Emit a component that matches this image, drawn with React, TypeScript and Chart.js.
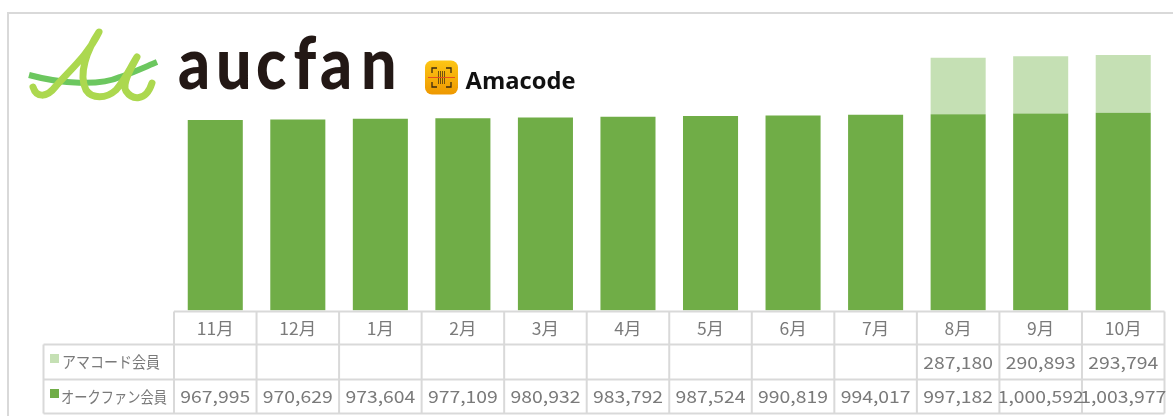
import React, { useEffect, useRef } from "react";
import { Chart, registerables } from "chart.js";

Chart.register(...registerables);

const months = ["11月", "12月", "1月", "2月", "3月", "4月", "5月", "6月", "7月", "8月", "9月", "10月"];
const aucfanMembers = [967995, 970629, 973604, 977109, 980932, 983792, 987524, 990819, 994017, 997182, 1000592, 1003977];
const amacodeMembers = [null, null, null, null, null, null, null, null, null, 287180, 290893, 293794];
const aucfanLabel = "オークファン会員";
const amacodeLabel = "アマコード会員";

const DARK = "#70ad47";
const LIGHT = "#c5e0b4";
const LINE = "#d9d9d9";
const TEXT = "#7a7a7a";
const FONT = '"Noto Sans CJK JP", "Noto Sans", sans-serif';

const fmt = (v: number | null) => (v == null ? "" : v.toLocaleString("en-US"));

const tablePlugin = {
  id: "dataTable",
  afterDraw(chart: any) {
    const { ctx, scales, chartArea } = chart;
    const x = scales.x;
    const left = chartArea.left;
    const right = chartArea.right;
    const rows = [311.5, 344.5, 379.5, 413.5];
    const legendLeft = 43.5;
    const step = (right - left) / months.length;

    ctx.save();
    ctx.strokeStyle = LINE;
    ctx.lineWidth = 2;
    // outer frame
    ctx.beginPath();
    ctx.moveTo(8, 416);
    ctx.lineTo(8, 13);
    ctx.lineTo(1173, 13);
    ctx.stroke();
    // table
    ctx.beginPath();
    ctx.moveTo(left, rows[0]);
    ctx.lineTo(right, rows[0]);
    for (let r = 1; r < rows.length; r++) {
      ctx.moveTo(legendLeft, rows[r]);
      ctx.lineTo(right, rows[r]);
    }
    ctx.moveTo(legendLeft, rows[1]);
    ctx.lineTo(legendLeft, rows[3]);
    for (let i = 0; i <= months.length; i++) {
      const lx = left + i * step;
      ctx.moveTo(lx, rows[0]);
      ctx.lineTo(lx, rows[3]);
    }
    ctx.stroke();

    ctx.fillStyle = TEXT;
    ctx.textAlign = "center";
    ctx.textBaseline = "middle";
    const wide = (text: string, cx: number, cy: number, sx: number) => {
      ctx.save();
      ctx.translate(cx, cy);
      ctx.scale(sx, 1);
      ctx.fillText(text, 0, 0);
      ctx.restore();
    };
    months.forEach((m, i) => {
      const cx = x.getPixelForValue(i);
      ctx.font = `17px ${FONT}`;
      wide(m, cx, 328.5, 1.03);
      wide(fmt(amacodeMembers[i]), cx, 362.5, 1.14);
      wide(fmt(aucfanMembers[i]), cx, 397, 1.14);
    });

    ctx.textAlign = "left";
    ctx.font = `15.5px ${FONT}`;
    ctx.fillText(amacodeLabel, 62, 362, 98);
    ctx.fillText(aucfanLabel, 61, 397, 106);
    ctx.fillStyle = LIGHT;
    ctx.fillRect(50, 354, 9, 9);
    ctx.fillStyle = DARK;
    ctx.fillRect(50, 389, 9, 9);
    ctx.restore();
  },
};

function Logo() {
  return (
    <svg width={1173} height={416} style={{ position: "absolute", left: 0, top: 0, pointerEvents: "none" }}>
      <defs>
        <linearGradient id="ic" x1="0" y1="0" x2="0" y2="1">
          <stop offset="0" stopColor="#fdc615" />
          <stop offset="1" stopColor="#ee9800" />
        </linearGradient>
      </defs>
      <path d="M29 75 C 62 84, 100 86, 120 77 C 132 73, 145 67, 157 62" fill="none" stroke="#6cc75f" strokeWidth={6} />
      <path
        d="M33 87 C 36 97, 46 99, 56 86 C 70 70, 88 55, 99 32 C 87 50, 78 74, 86 90 C 92 99, 106 99, 116 90 C 125 80, 130 68, 137 57 C 130 70, 122 84, 126 91 C 132 100, 146 102, 152 83"
        fill="none"
        stroke="#acd84f"
        strokeWidth={7}
        strokeLinecap="round"
        strokeLinejoin="round"
      />
      <g transform="scale(0.86 1)">
        <text
          x={[178, 216, 256, 293.5, 320, 361].map((v) => v / 0.86).join(" ")}
          y={89}
          fontFamily="Lato, 'Open Sans', sans-serif"
          fontWeight={900}
          fontSize={73}
          fill="#231815"
        >
          aucfan
        </text>
      </g>
      <rect x={425} y={60.5} width={33} height={34} rx={7} fill="url(#ic)" />
      <g fill="none" stroke="#3a2a10" strokeWidth={1.3}>
        <path d="M432 73 v-5 h5 M446 68 h5 v5 M432 82 v5 h5 M446 87 h5 v-5" />
        <path d="M438.5 71 v13 M440.5 71 v13 M442.5 71 v13 M444.5 71 v13" strokeWidth={0.7} />
      </g>
      <path d="M428 77.5 h27" stroke="#e5501e" strokeWidth={1} />
      <text
        x={465.5}
        y={89}
        fontFamily="'Open Sans', sans-serif"
        fontWeight={700}
        fontSize={23}
        fill="#111"
        textLength={110}
        lengthAdjust="spacingAndGlyphs"
      >
        Amacode
      </text>
    </svg>
  );
}

export default function App() {
  const ref = useRef<HTMLCanvasElement>(null);
  useEffect(() => {
    const chart = new Chart(ref.current!, {
      type: "bar",
      data: {
        labels: months,
        datasets: [
          { label: aucfanLabel, data: aucfanMembers, backgroundColor: DARK, stack: "a" },
          { label: amacodeLabel, data: amacodeMembers, backgroundColor: LIGHT, stack: "a" },
        ],
      },
      options: {
        animation: false,
        responsive: false,
        layout: { padding: { left: 174, right: 8.5, top: 15.2, bottom: 105.5 } },
        plugins: { legend: { display: false }, tooltip: { enabled: false } },
        datasets: { bar: { categoryPercentage: 1, barPercentage: 0.667 } },
        scales: {
          x: { display: false, stacked: true },
          y: { display: false, stacked: true, min: 0, max: 1500000 },
        },
      } as any,
      plugins: [tablePlugin],
    });
    return () => chart.destroy();
  }, []);
  return (
    <div style={{ position: "fixed", left: 0, top: 0, width: 1173, height: 416, background: "#fff", overflow: "hidden" }}>
      <canvas ref={ref} width={1173} height={416} style={{ display: "block" }} />
      <Logo />
    </div>
  );
}
